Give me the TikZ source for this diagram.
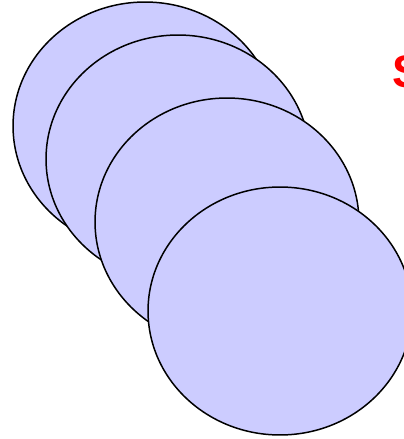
\documentclass[tikz,border=0pt]{standalone}
\usepackage{fontspec}
\setmainfont{Liberation Sans}
\usetikzlibrary{shapes.geometric}

\definecolor{discfill}{RGB}{204,204,255}

\begin{document}
\begin{tikzpicture}[x=0.02cm, y=-0.02cm,
    disc/.style={ellipse, draw=black, fill=discfill, line width=0.85pt,
        minimum width=5.28cm, minimum height=4.96cm, inner sep=0pt}]
    \useasboundingbox (0,0) rectangle (404,439);
    \foreach \i/\x/\y in {1/145/126, 2/178/159, 3/227/222, 4/280/311}
        \node[disc] (disc\i) at (\x,\y) {};
    \node[anchor=base west, inner sep=0pt, text=red, font=\bfseries\fontsize{26}{26}\selectfont] (slabel) at (392,88) {S};
\end{tikzpicture}
\end{document}
